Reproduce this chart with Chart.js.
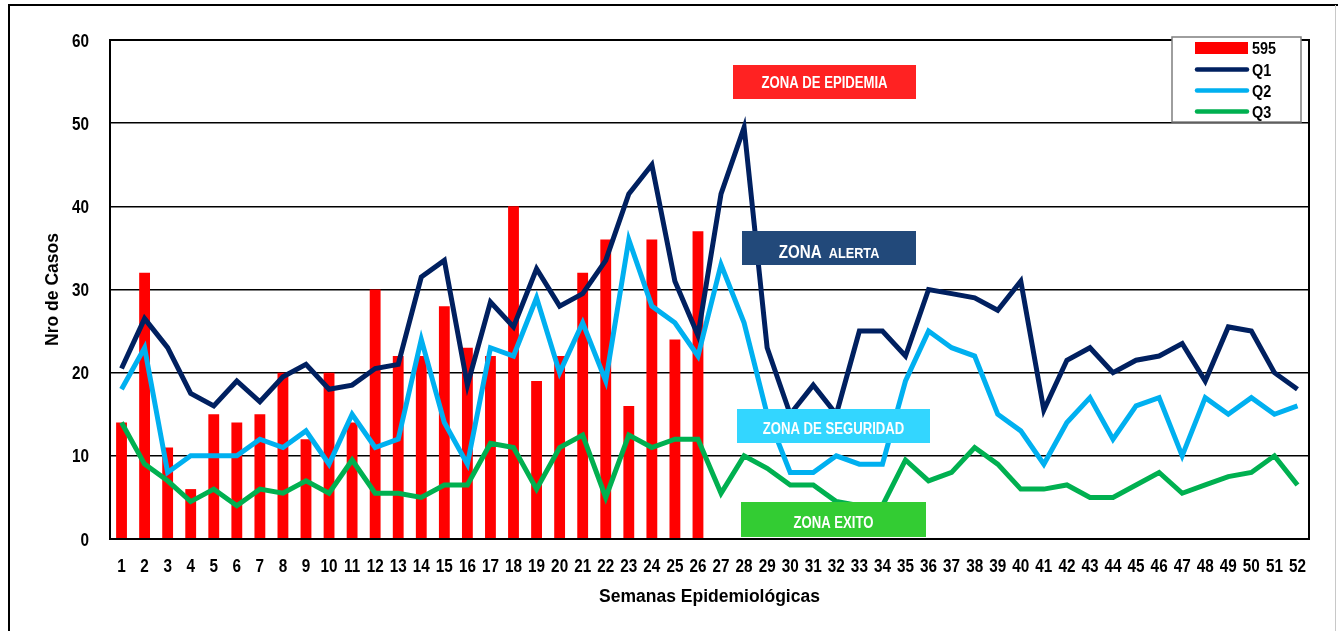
<!DOCTYPE html>
<html>
<head>
<meta charset="utf-8">
<script src="https://cdn.jsdelivr.net/npm/chart.js@4.4.1/dist/chart.umd.min.js"></script>
<style>
  html, body { margin: 0; padding: 0; background: #fff; }
  #wrap { position: relative; width: 1338px; height: 631px; }
</style>
</head>
<body>
<div id="wrap"><canvas id="c" width="1338" height="631"></canvas></div>
<script>
// ---- data ----
const semanas = ['1','2','3','4','5','6','7','8','9','10','11','12','13','14','15','16','17','18','19','20','21','22','23','24','25','26',
  '27','28','29','30','31','32','33','34','35','36','37','38','39','40','41','42','43','44','45','46','47','48','49','50','51','52'];
const casos595 = [14,32,11,6,15,14,15,20,12,20,14,30,22,22,28,23,22,40,19,22,32,36,16,36,24,37];
const q1 = [20.5,26.5,23,17.5,16,19,16.5,19.5,21,18,
            18.5,20.5,21,31.5,33.5,18.5,28.5,25.5,32.5,28,
            29.5,33.5,41.5,45,31,24.5,41.5,49.5,23,15,
            18.5,15,25,25,22,30,29.5,29,27.5,31,
            15.5,21.5,23,20,21.5,22,23.5,19,25.5,25,20,18];
const q2 = [18,23,8,10,10,10,12,11,13,9,
            15,11,12,24,14,9,23,22,29,20,
            26,19,36,28,26,22,33,26,15,8,
            8,10,9,9,19,25,23,22,15,13,
            9,14,17,12,16,17,10,17,15,17,15,16];
const q3 = [14,9,7,4.5,6,4,6,5.5,7,5.5,
            9.5,5.5,5.5,5,6.5,6.5,11.5,11,6,11,
            12.5,5,12.5,11,12,12,5.5,10,8.5,6.5,
            6.5,4.5,4,4,9.5,7,8,11,9,6,
            6,6.5,5,5,6.5,8,5.5,6.5,7.5,8,10,6.5];
const yTicks = [0,10,20,30,40,50,60];

const SANS = '"Liberation Sans", Arial, sans-serif';

function narrowText(ctx, s, x, y, align, size, squeeze) {
  ctx.save();
  ctx.font = 'bold ' + size + 'px ' + SANS;
  ctx.translate(x, y);
  ctx.scale(squeeze, 1);
  ctx.textAlign = align;
  ctx.textBaseline = 'alphabetic';
  ctx.fillText(s, 0, 0);
  ctx.restore();
}

const decor = {
  id: 'decor',
  afterDatasetsDraw(chart) {
    const ctx = chart.ctx;
    const a = chart.chartArea;
    ctx.save();
    // plot border
    ctx.strokeStyle = '#000';
    ctx.lineWidth = 2;
    ctx.strokeRect(a.left, a.top, a.right - a.left, a.bottom - a.top);

    // condensed tick labels, positioned by the library scales
    const xs = chart.scales.x, ys = chart.scales.y;
    ctx.fillStyle = '#000';
    xs.ticks.forEach((t, i) => {
      narrowText(ctx, xs.getLabelForValue(t.value), xs.getPixelForTick(i), 572, 'center', 18, 0.85);
    });
    ys.ticks.forEach(t => {
      narrowText(ctx, String(t.value), 89, ys.getPixelForValue(t.value) + 6.5, 'right', 18, 0.85);
    });

    // zone labels
    const zones = [
      {t:[['ZONA DE EPIDEMIA', 16]], bg:'#FF2222', x:733, y:65, w:183, h:34, ty:88},
      {t:[['ZONA', 18.5], ['  ALERTA', 15.5]], bg:'#22497A', x:742, y:231, w:174, h:34, ty:258},
      {t:[['ZONA DE SEGURIDAD', 16]], bg:'#33D6FF', x:737, y:409, w:193, h:34, ty:434},
      {t:[['ZONA EXITO', 16]], bg:'#33CC33', x:741, y:502, w:185, h:35, ty:528}
    ];
    const sq = 0.82;
    zones.forEach(z => {
      ctx.fillStyle = z.bg;
      ctx.fillRect(z.x, z.y, z.w, z.h);
      ctx.fillStyle = '#fff';
      let total = 0;
      z.t.forEach(([s, f]) => { ctx.font = 'bold ' + f + 'px ' + SANS; total += ctx.measureText(s).width * sq; });
      let x = z.x + z.w / 2 - total / 2;
      z.t.forEach(([s, f]) => {
        narrowText(ctx, s, x, z.ty, 'left', f, sq);
        ctx.font = 'bold ' + f + 'px ' + SANS;
        x += ctx.measureText(s).width * sq;
      });
    });

    // legend
    const lx = 1172, ly = 37, lw = 129, lh = 85;
    ctx.fillStyle = '#fff';
    ctx.fillRect(lx, ly, lw, lh);
    ctx.strokeStyle = '#7f7f7f';
    ctx.lineWidth = 1.5;
    ctx.strokeRect(lx, ly, lw, lh);
    const rows = [48, 69.5, 90.5, 111.5];
    chart.data.datasets.forEach((ds, i) => {
      const cy = rows[i];
      if (ds.type === 'bar') {
        ctx.fillStyle = ds.backgroundColor;
        ctx.fillRect(1195, cy - 6, 53, 12);
      } else {
        ctx.strokeStyle = ds.borderColor;
        ctx.lineWidth = 4.5;
        ctx.lineCap = 'round';
        ctx.beginPath();
        ctx.moveTo(1197, cy);
        ctx.lineTo(1247, cy);
        ctx.stroke();
      }
      ctx.fillStyle = '#000';
      narrowText(ctx, ds.label, 1252, cy + 6, 'left', 16, 0.9);
    });

    // outer frame
    ctx.lineCap = 'butt';
    ctx.strokeStyle = '#000';
    ctx.lineWidth = 2;
    ctx.beginPath();
    ctx.moveTo(9, 631);
    ctx.lineTo(9, 5);
    ctx.lineTo(1338, 5);
    ctx.stroke();
    ctx.strokeStyle = '#c8c8c8';
    ctx.lineWidth = 1;
    ctx.beginPath();
    ctx.moveTo(1335.5, 5);
    ctx.lineTo(1335.5, 631);
    ctx.stroke();
    ctx.restore();
  }
};

new Chart(document.getElementById('c'), {
  data: {
    labels: semanas,
    datasets: [
      { type: 'bar', label: '595', data: casos595, backgroundColor: '#FF0000', order: 4,
        barPercentage: 0.47, categoryPercentage: 1 },
      { type: 'line', label: 'Q1', data: q1, borderColor: '#002060', borderWidth: 5, pointRadius: 0, tension: 0, order: 3 },
      { type: 'line', label: 'Q2', data: q2, borderColor: '#00B0F0', borderWidth: 5, pointRadius: 0, tension: 0, order: 2 },
      { type: 'line', label: 'Q3', data: q3, borderColor: '#00B050', borderWidth: 5, pointRadius: 0, tension: 0, order: 1 }
    ]
  },
  options: {
    responsive: false,
    animation: false,
    events: [],
    layout: { padding: { left: 0, top: 40, right: 29, bottom: 0 } },
    plugins: { legend: { display: false }, tooltip: { enabled: false } },
    scales: {
      x: {
        offset: true,
        grid: { display: false, drawTicks: false },
        border: { display: false },
        ticks: { display: false, autoSkip: false, maxRotation: 0 },
        title: { display: true, text: 'Semanas Epidemiológicas', color: '#000',
                 font: { family: SANS, size: 17.5, weight: 'bold' }, padding: { top: 0, bottom: 23.5 } },
        afterFit(s) { s.height = 92; }
      },
      y: {
        min: 0, max: 60,
        afterBuildTicks(s) { s.ticks = yTicks.map(v => ({ value: v })); },
        grid: { color: '#000', lineWidth: 1.4, drawTicks: false },
        border: { display: false },
        ticks: { display: false },
        title: { display: true, text: 'Nro de Casos', color: '#000',
                 font: { family: SANS, size: 17.5, weight: 'bold' }, padding: { top: 42.5, bottom: 0 } },
        afterFit(s) { s.width = 110; }
      }
    }
  },
  plugins: [decor]
});
</script>
</body>
</html>
